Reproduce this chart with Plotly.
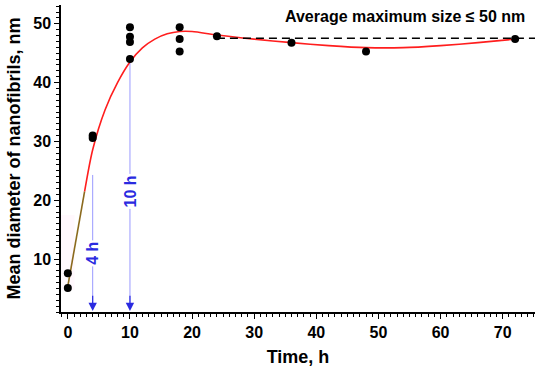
import plotly.graph_objects as go

# measured points
pt_x = [0, 0, 4, 4, 10, 10, 10, 10, 18, 18, 18, 24, 36, 48, 72]
pt_y = [7.6, 5.1, 30.6, 31.0, 49.4, 47.8, 46.9, 44.0, 49.4, 47.4, 45.3, 47.9, 46.8, 45.3, 47.4]

# fitted curve
early_x = [0, 2.7]
early_y = [5.4, 21.5]
fit_x = [2.7, 4, 6, 8, 10, 12, 14, 16, 18, 20, 24, 30, 36, 42, 48, 54, 60, 66, 72]
fit_y = [21.5, 28.6, 35.4, 40.0, 43.5, 45.9, 47.4, 48.3, 48.7, 48.7, 48.1, 47.4, 46.8, 46.3, 45.95, 45.95, 46.3, 46.8, 47.4]

# plateau
plateau_y = 47.55
plateau_x0 = 24

# time markers
mark_x = [4, 10]
mark_top = [24.3, 43.5]
mark_text = ["4 h", "10 h"]
mark_text_y = [11.0, 21.5]

LINE_BLUE = "rgba(120,120,255,0.75)"
HEAD_BLUE = "#2a2ae0"
FONT = "Liberation Sans, Arial, sans-serif"

fig = go.Figure()

# faint pink highlight near the origin
fig.add_shape(type="rect", xref="x", yref="y", x0=-1.1, x1=1.1, y0=4.7, y1=17.5,
              fillcolor="rgba(255,200,235,0.12)", line_width=0, layer="below")

# vertical marker lines
for mx, mt in zip(mark_x, mark_top):
    fig.add_trace(go.Scatter(x=[mx, mx], y=[mt, 2.5], mode="lines",
                             line=dict(color=LINE_BLUE, width=1), showlegend=False,
                             hoverinfo="skip"))
    fig.add_annotation(x=mx, y=1.15, ax=mx, ay=4.0, xref="x", yref="y", axref="x", ayref="y",
                       showarrow=True, arrowhead=2, arrowsize=1.4, arrowwidth=1.2,
                       arrowcolor=HEAD_BLUE, text="")

for mx, mty, mtxt in zip(mark_x, mark_text_y, mark_text):
    fig.add_annotation(x=mx, y=mty, xref="x", yref="y", text=mtxt, showarrow=False,
                       textangle=-90, bgcolor="white", borderpad=1,
                       font=dict(family=FONT, size=16, color=HEAD_BLUE, weight="bold"))

# plateau dashed line
fig.add_shape(type="line", xref="x", yref="y", x0=plateau_x0, x1=75.2,
              y0=plateau_y, y1=plateau_y,
              line=dict(color="black", width=1.5, dash="8px,5px"))

fig.add_trace(go.Scatter(x=early_x, y=early_y, mode="lines",
                         line=dict(color="#8b6a1e", width=1.6), showlegend=False))
fig.add_trace(go.Scatter(x=fit_x, y=fit_y, mode="lines", line_shape="spline",
                         line=dict(color="#ff1e1e", width=1.6, smoothing=0.8), showlegend=False))
fig.add_trace(go.Scatter(x=pt_x, y=pt_y, mode="markers",
                         marker=dict(color="black", size=8), showlegend=False))

fig.add_annotation(xref="paper", yref="paper", x=(405 - 61) / (535 - 61),
                   y=1 - (16 - 5) / (311.7 - 5), text="Average maximum size ≤ 50 nm",
                   showarrow=False, xanchor="center", yanchor="middle",
                   font=dict(family=FONT, size=16, color="black", weight="bold"))

axis_common = dict(showline=True, linecolor="black", linewidth=1.5, ticks="outside",
                   ticklen=5, tickwidth=1.2, tickcolor="black", showgrid=False, zeroline=False,
                   mirror=False, automargin=False,
                   tickfont=dict(family=FONT, size=16, color="black", weight="bold"),
                   minor=dict(ticks="outside", ticklen=3, tickwidth=1, tickcolor="black", dtick=1))

fig.update_xaxes(range=[-1.1, 75.2], tickmode="array", tickvals=[0, 10, 20, 30, 40, 50, 60, 70],
                 title=dict(text="Time, h", font=dict(family=FONT, size=18, color="black", weight="bold"),
                            standoff=10),
                 **axis_common)
fig.update_yaxes(range=[1.0, 53.2], tickmode="array", tickvals=[10, 20, 30, 40, 50],
                 title=dict(text="Mean diameter of nanofibrils, nm",
                            font=dict(family=FONT, size=18, color="black", weight="bold"), standoff=8),
                 **axis_common)

fig.update_layout(width=550, height=374, margin=dict(l=61, r=15, t=5, b=62),
                  plot_bgcolor="white", paper_bgcolor="white", showlegend=False,
                  font=dict(family=FONT))

fig.write_html("out.html", config={"displayModeBar": False},
               post_script="document.body.style.margin='0px';document.body.style.overflow='hidden';")
